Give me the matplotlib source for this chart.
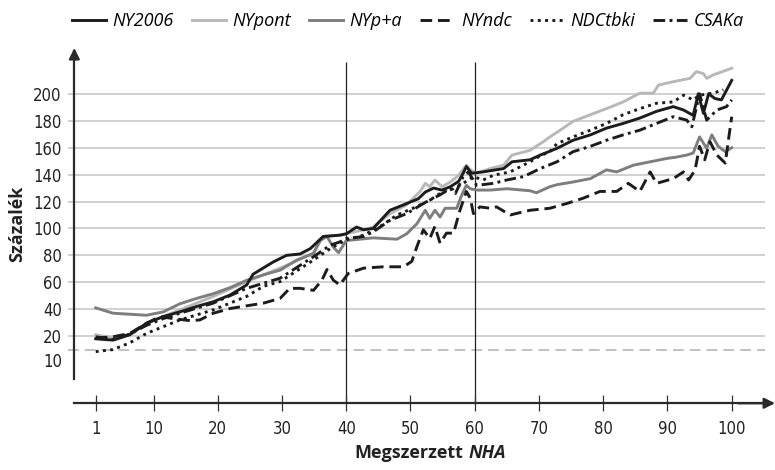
import numpy as np
import matplotlib
matplotlib.use('Agg')
import matplotlib.pyplot as plt
import matplotlib.transforms as mtransforms
from matplotlib import font_manager as fm


def regular(name, stretch=None):
    # van-e normál súlyú, álló változat
    for f in fm.fontManager.ttflist:
        if f.name != name or f.style != 'normal':
            continue
        if f.weight not in (400, 'normal', 'regular', 'book'):
            continue
        if stretch is not None and f.stretch != stretch:
            continue
        return True
    return False


if regular('Liberation Sans Narrow'):
    narrow = dict(family='Liberation Sans Narrow')
elif regular('DejaVu Sans', 'condensed'):
    narrow = dict(family='DejaVu Sans', stretch='condensed')
elif regular('Roboto Condensed'):
    narrow = dict(family='Roboto Condensed')
else:
    narrow = dict(family='Liberation Sans')
humanist = 'Open Sans' if regular('Open Sans') else 'DejaVu Sans'

# adatok
ny2006_x = [1, 3.7, 6.3, 8.9, 11.5, 14.1, 16.7, 19.3, 21.9, 24.5, 25.5, 28.6, 30.7, 32.8, 34.4, 36.4, 39, 40,
            41.6, 42.7, 44.2, 46.8, 48.9, 51.2, 52.3, 53.6, 54.9, 56.2, 57.5, 58.2, 58.7, 59.5, 61.3, 64.5,
            65.8, 68.6, 70.2, 72.8, 75.3, 78, 80.5, 83.1, 85.7, 88.3, 90.9, 92.5, 94, 94.8, 95.6, 96.4, 97.4,
            98.4, 100]
ny2006_y = [18, 17, 21, 29.5, 34.5, 38, 42, 45.5, 50.5, 58, 66, 75, 80, 81, 85, 94, 95, 96,
            101, 99, 100, 113.5, 117.5, 122, 127, 130, 128.5, 131, 135, 141, 146, 141, 142, 144.5,
            149.5, 151, 154.5, 159.5, 165.5, 169.5, 174.5, 178, 182, 187, 190.5, 188, 184, 200, 185.5, 200, 196.5,
            195.5, 210]

nypont_x = [1, 3.7, 6.3, 8.9, 11.5, 14.1, 19.3, 24.5, 29.7, 34.9, 36.4, 39, 40, 42.7, 44.2, 46.8, 49.4,
            51.5, 52.3, 53, 53.8, 54.9, 56.2, 57.5, 58.7, 59.3, 60.3, 62.4, 64.5, 65.8, 68.6, 70.7, 71.7,
            73.3, 75.3, 78, 80.5, 83.1, 85.7, 87.8, 88.6, 90.9, 93.5, 94.5, 95.6, 96.1, 97.1, 100]
nypont_y = [21, 18.5, 21, 29.5, 34.5, 39.5, 49.5, 60.5, 70.5, 81.5, 94, 95, 96, 99, 101, 111, 117.5,
            127.5, 133.5, 131, 136, 131, 134.5, 139.5, 147, 143.5, 141, 144.5, 147, 154.5, 158, 164.5, 168,
            173, 179.5, 184.5, 189, 194, 200.5, 200.5, 206.5, 209, 211.5, 216.5, 215, 211.5, 214, 219]

nypa_x = [1, 3.7, 8.9, 11.5, 14.1, 16.7, 19.3, 21.9, 24.5, 27.1, 29.7, 32.3, 34.9, 35.9, 37, 38, 38.8, 40,
          44.2, 47.9, 49.4, 51, 52.3, 53, 53.8, 54.6, 55.4, 57.2, 58, 58.7, 59.3, 60.3, 62.4, 65, 68.6, 69.6,
          71.7, 72.8, 75.3, 78, 80.5, 82.1, 84.7, 87.3, 89.9, 91.4, 93, 94, 95, 96.1, 96.9, 97.9, 99, 100]
nypa_y = [41, 37, 35.5, 38, 44, 48, 51.5, 56, 61.5, 65.5, 69, 76.5, 81.5, 91, 94, 86, 82, 91,
          93, 92, 96, 103.5, 113.5, 107.5, 113.5, 108.5, 115, 115, 125, 132, 129.5, 128.5, 128.5, 129.5, 128, 126.5,
          131, 132.5, 134.5, 137, 143.5, 142, 147, 149.5, 152, 153, 154.5, 156, 168, 159.5, 169.5, 161, 157, 160]

nyndc_x = [1, 3.7, 6.3, 8.9, 11, 13.1, 15.7, 17.2, 19.3, 21.9, 24.5, 27.1, 29.7, 31.2, 32.8, 34.9, 36.2, 37,
           38, 39, 40.3, 42.7, 45.8, 48.9, 50.2, 51, 52, 53, 53.8, 54.6, 55.6, 56.7, 57.7, 58.7, 59.3, 59.8,
           60.8, 62.4, 63.4, 65.5, 68.6, 71.7, 74.3, 76.9, 79.5, 82.1, 83.9, 85.7, 87.3, 88.3, 90.9, 92.5,
           93.3, 94.3, 95, 95.8, 96.6, 97.7, 99, 99.5, 100]
nyndc_y = [18.5, 19.5, 22, 29.5, 34.5, 33, 31.5, 32, 37, 40.5, 42.5, 44.5, 48, 55.5, 55.5, 54, 61.5, 69.5,
           61.5, 58, 66.5, 70.5, 71.5, 71.5, 75.5, 86.5, 99, 92.5, 101.5, 89, 96.5, 96.5, 113.5, 127.5, 122.5, 111,
           116, 115, 116, 110, 113.5, 115, 118.5, 122.5, 127.5, 127.5, 133.5, 127.5, 142, 133.5, 137, 142,
           136, 143.5, 161, 151, 164.5, 154.5, 148.5, 166, 183]

ndc_x = [1, 3.7, 6.3, 8.9, 11.5, 14.1, 19.3, 24.5, 27.1, 29.7, 34.9, 37.5, 39, 40, 42.7, 45.3, 47.9, 50.4,
         53, 55.1, 56.7, 58.2, 59.8, 61.3, 62.9, 65.5, 68.6, 70.2, 71.7, 72.8, 75.3, 78, 80.5, 83.1, 85.7, 88.3,
         90.9, 92.5, 94, 95, 97.1, 98.7]
ndc_y = [8.5, 10, 15, 22, 27, 32, 39.5, 49.5, 57, 60.5, 76.5, 85, 89, 91.5, 95, 101.5, 110, 115,
         121, 127.5, 129.5, 133.5, 138.5, 136, 139.5, 142, 149.5, 154, 157, 163, 168, 173, 178, 184.5, 189, 193,
         194, 199, 195.5, 199, 200.5, 203]

csaka_x = [1, 3.7, 6.3, 8.9, 11.5, 14.1, 19.3, 24.5, 29.7, 34.9, 37.5, 39, 40, 42.7, 44.2, 46.8, 49.4, 52,
           54.6, 56.2, 57, 58.2, 59, 60.3, 62.9, 65, 67.6, 70.2, 72.8, 75.3, 78, 80.5, 83.1, 85.7, 88.3, 90.9,
           93, 93.8, 95, 96.1, 97.7, 99.2, 100]
csaka_y = [19.5, 17.5, 21.5, 28, 33, 37, 44.5, 55.5, 63, 79, 87.5, 90, 92.5, 94, 97.5, 106, 111, 118.5,
           125, 129.5, 126, 138.5, 142, 132, 133.5, 136, 138.5, 144.5, 149.5, 157, 161, 165.5, 169.5, 173, 178, 183,
           180.5, 175.5, 200, 180.5, 188, 190.5, 195.5]

xticks = [1, 10, 20, 30, 40, 50, 60, 70, 80, 90, 100]
yticks = [10, 20, 40, 60, 80, 100, 120, 140, 160, 180, 200]

fig = plt.figure(figsize=(7.75, 4.7), dpi=100)
ax = fig.add_axes([60 / 775, 1 - 410 / 470, 715 / 775, 370 / 470])
ax.set_xlim(-4.56, 106.74)
ax.set_ylim(-34.9, 240)

x0, y0 = -2.33, -29.9   # tengelyek helye

# rácsvonalak
grid = [v for v in yticks if v != 10]
ax.hlines(grid, -3.3, 105.2, color='#c4c4c4', lw=1.1, zorder=1)
ax.hlines([10], -3.3, 105.2, color='#b0b0b0', lw=1.1, linestyles=(0, (7, 4)), zorder=1)
ax.vlines([40, 60], y0, 223.6, color='#222222', lw=0.9, zorder=1)

dark = '#1c1c1c'
ax.plot(ny2006_x, ny2006_y, color=dark, lw=2.1, label='NY2006', zorder=5)
ax.plot(nypont_x, nypont_y, color='#b8b8b8', lw=2.1, label='NYpont', zorder=3)
ax.plot(nypa_x, nypa_y, color='#7e7e7e', lw=2.1, label='NYp+a', zorder=3)
ax.plot(nyndc_x, nyndc_y, color=dark, lw=2.1, dashes=(4, 2), label='NYndc', zorder=4)
ax.plot(ndc_x, ndc_y, color=dark, lw=2.1, dashes=(1, 1.5), label='NDCtbki', zorder=4)
ax.plot(csaka_x, csaka_y, color=dark, lw=2.1, dashes=(4, 1.5, 1, 1.5), label='CSAKa', zorder=4)

# tengelyek
for s in ['top', 'right']:
    ax.spines[s].set_visible(False)
ax.spines['left'].set_position(('data', x0))
ax.spines['bottom'].set_position(('data', y0))
ax.spines['left'].set_bounds(-11.9, 232)
ax.spines['bottom'].set_bounds(x0, 105)
for s in ['left', 'bottom']:
    ax.spines[s].set_color('#2a2a2a')
    ax.spines[s].set_linewidth(1.6)
ax.annotate('', xy=(x0, 234), xytext=(x0, 225), annotation_clip=False,
            arrowprops=dict(arrowstyle='-|>', color='#2a2a2a', lw=1.6, mutation_scale=16, shrinkA=0, shrinkB=0))
ax.annotate('', xy=(106.74, y0), xytext=(101, y0), annotation_clip=False,
            arrowprops=dict(arrowstyle='-|>', color='#2a2a2a', lw=1.6, mutation_scale=16, shrinkA=0, shrinkB=0))

ax.set_xticks(xticks)
ax.set_xticklabels([str(v) for v in xticks], fontsize=12, color='#222222', weight='normal', **narrow)
ax.tick_params(axis='x', direction='inout', length=12, width=0.9, color='#333333', pad=6)
ax.set_yticks(yticks)
ax.set_yticklabels([str(v) for v in yticks], fontsize=12, color='#222222', weight='normal', **narrow)
ax.tick_params(axis='y', length=0, pad=9)
lab10 = ax.get_yticklabels()[0]
lab10.set_transform(lab10.get_transform() + mtransforms.ScaledTranslation(0, -10 / 100, fig.dpi_scale_trans))

fig.text(17 / 775, 1 - 224 / 470, 'Százalék', rotation=90, ha='center', va='center',
         family=humanist, weight='bold', fontsize=13, color='#222222')
t1 = fig.text(463 / 775, 1 - 453 / 470, 'Megszerzett', ha='right', va='center',
              family=humanist, weight='bold', fontsize=13, color='#222222')
ax.annotate('NHA', xy=(1, 0.5), xycoords=t1, xytext=(4, 0), textcoords='offset points',
            ha='left', va='center', family=humanist, weight='bold', style='italic',
            fontsize=13, color='#222222', annotation_clip=False)

fig.legend(loc='center left', bbox_to_anchor=(72 / 775, 1 - 21 / 470), ncol=6, frameon=False,
           prop=dict(family=humanist, style='italic', size=13), handlelength=1.9,
           handletextpad=0.35, columnspacing=1.0, borderaxespad=0, borderpad=0)

fig.savefig('out.png', dpi=100)
